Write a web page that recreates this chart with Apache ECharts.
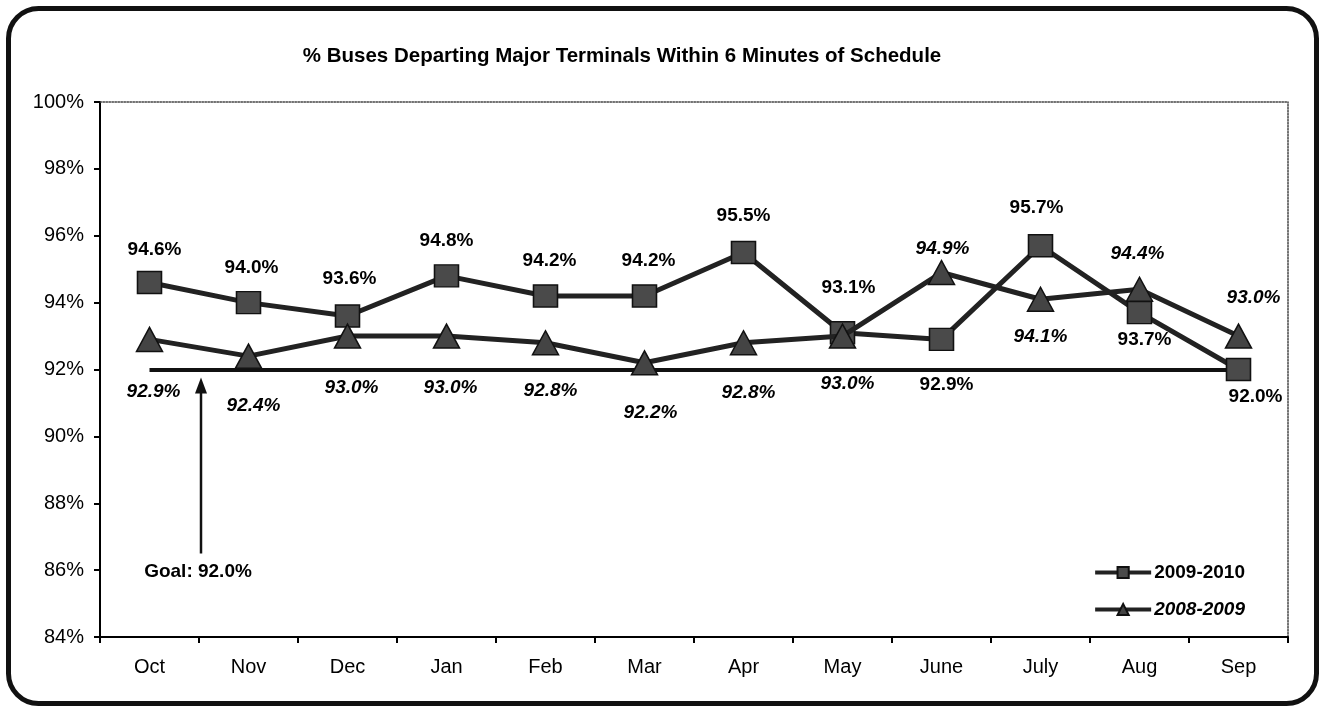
<!DOCTYPE html>
<html>
<head>
<meta charset="utf-8">
<script src="https://cdn.jsdelivr.net/npm/echarts@6/dist/echarts.min.js"></script>
<style>
html,body{margin:0;padding:0;background:#fff;}
#chart{width:1322px;height:712px;}
</style>
</head>
<body>
<div id="chart"></div>
<script>
// ---- data ----
const titleText = '% Buses Departing Major Terminals Within 6 Minutes of Schedule';
const categories = ['Oct','Nov','Dec','Jan','Feb','Mar','Apr','May','June','July','Aug','Sep'];
const seriesNames = ['2009-2010','2008-2009'];
const values2010 = [94.6,94.0,93.6,94.8,94.2,94.2,95.5,93.1,92.9,95.7,93.7,92.0];
const values2009 = [92.9,92.4,93.0,93.0,92.8,92.2,92.8,93.0,94.9,94.1,94.4,93.0];
const goalValue = 92.0;
const goalText = 'Goal: 92.0%';
const yMin = 84, yMax = 100, yStep = 2;

// ---- label placement (style, offsets from marker centre) ----
const off2010 = [[5,-33],[3,-35],[2,-37],[0,-35],[4,-35],[4,-35],[0,-37],[6,-45],[5,45],[-4,-38],[5,27],[17,27]];
const off2009 = [[4,52],[5,50],[4,52],[4,52],[5,48],[6,50],[5,50],[5,48],[1,-24],[0,37],[-2,-35],[15,-38]];

const FONT = '"Liberation Sans", Arial, sans-serif';
const chart = echarts.init(document.getElementById('chart'), null, {renderer:'canvas'});

function items(vals, offs){
  return vals.map((v,i)=>({
    value: v,
    label: {offset: offs[i]}
  }));
}

const labelBase = {
  show: true, position: 'inside', color: '#000', fontFamily: FONT,
  fontSize: 19, fontWeight: 'bold',
  formatter: p => p.value.toFixed(1) + '%'
};

const option = {
  backgroundColor: '#fff',
  animation: false,
  title: {
    text: titleText, left: 617, top: 41, textAlign: 'center',
    textStyle: {fontFamily: FONT, fontSize: 20.5, fontWeight: 'bold', color: '#000'}
  },
  legend: {
    orient: 'vertical', right: 72, top: 558,
    itemWidth: 56, itemHeight: 14, itemGap: 18,
    lineStyle: {width: 4},
    textStyle: {fontFamily: FONT, fontSize: 19, fontWeight: 'bold', color: '#000', padding:[0,0,0,-2]},
    data: [
      {name: seriesNames[0]},
      {name: seriesNames[1], textStyle: {fontStyle: 'italic'}}
    ]
  },
  grid: {left: 100, right: 34, top: 102, bottom: 75, containLabel: false},
  xAxis: [{
    type: 'category', data: categories, boundaryGap: true, position: 'bottom',
    axisLine: {show: true, lineStyle: {color: '#000', width: 2}},
    axisTick: {show: true, length: 6, lineStyle: {color: '#000', width: 2}},
    axisLabel: {fontFamily: FONT, fontSize: 20, color: '#000', margin: 20},
    splitLine: {show: false}
  },{
    type: 'category', data: categories, position: 'top',
    axisLine: {show: true, lineStyle: {color: '#444', width: 1.5, type: 'dotted'}},
    axisTick: {show: false}, axisLabel: {show: false}, splitLine: {show: false}
  }],
  yAxis: [{
    type: 'value', min: yMin, max: yMax, interval: yStep, position: 'left',
    axisLine: {show: true, lineStyle: {color: '#000', width: 2}},
    axisTick: {show: true, length: 6, lineStyle: {color: '#000', width: 2}},
    axisLabel: {fontFamily: FONT, fontSize: 20, color: '#000', margin: 16, formatter: '{value}%'},
    splitLine: {show: false}
  },{
    type: 'value', min: yMin, max: yMax, interval: yStep, position: 'right',
    axisLine: {show: true, lineStyle: {color: '#444', width: 1.5, type: 'dotted'}},
    axisTick: {show: false}, axisLabel: {show: false}, splitLine: {show: false}
  }],
  series: [
    {
      name: seriesNames[0], type: 'line', data: items(values2010, off2010),
      symbol: 'rect', symbolSize: [24, 22], z: 3,
      lineStyle: {color: '#222', width: 5},
      itemStyle: {color: '#4a4a4a', borderColor: '#111', borderWidth: 1.5},
      label: Object.assign({}, labelBase),
      markLine: {
        silent: true, symbol: ['none','none'], label: {show: false},
        lineStyle: {color: '#111', width: 4, type: 'solid'},
        data: [[{coord: [categories[0], goalValue]}, {coord: [categories[categories.length-1], goalValue]}]],
        z: 1
      }
    },
    {
      name: seriesNames[1], type: 'line', data: items(values2009, off2009),
      symbol: 'triangle', symbolSize: [26, 24], z: 4,
      lineStyle: {color: '#222', width: 5},
      itemStyle: {color: '#444', borderColor: '#111', borderWidth: 1.5},
      label: Object.assign({}, labelBase, {fontStyle: 'italic'})
    }
  ]
};
chart.setOption(option);

// Goal annotation: text with an arrow pointing to the goal line
const goalY = chart.convertToPixel({yAxisIndex: 0}, goalValue);
const x0 = chart.convertToPixel({xAxisIndex: 0}, categories[0]);
const x1 = chart.convertToPixel({xAxisIndex: 0}, categories[1]);
const ax = (x0 + x1) / 2 + 2;
const tipY = goalY + 8;
const baseY = goalY + 184;
chart.setOption({
  graphic: [
    {
      type: 'rect', left: 6, top: 6, silent: true,
      shape: {x: 0, y: 0, width: 1308, height: 695, r: 30},
      style: {fill: 'none', stroke: '#111', lineWidth: 5}, z: 100
    },
    {
      type: 'line', silent: true,
      shape: {x1: ax, y1: baseY, x2: ax, y2: tipY + 12},
      style: {stroke: '#111', lineWidth: 2.5}, z: 50
    },
    {
      type: 'polygon', silent: true,
      shape: {points: [[ax, tipY], [ax - 6, tipY + 16], [ax + 6, tipY + 16]]},
      style: {fill: '#111'}, z: 50
    },
    {
      type: 'text', silent: true, x: ax - 3, y: baseY + 18,
      style: {text: goalText, font: 'bold 19px ' + FONT, fill: '#000', align: 'center', verticalAlign: 'middle'}, z: 50
    }
  ]
});
</script>
</body>
</html>
